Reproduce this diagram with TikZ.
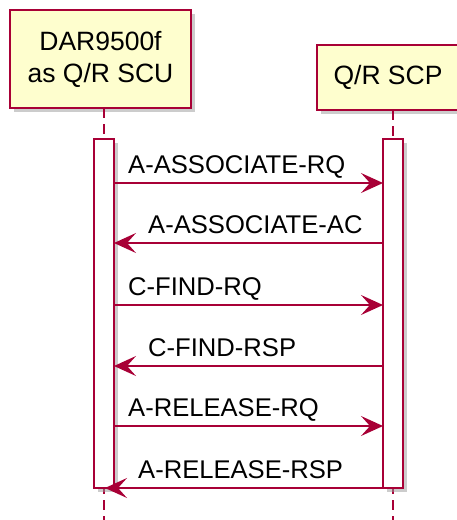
\documentclass[tikz,border=0pt]{standalone}
\usepackage{fontspec}
\setmainfont{Liberation Sans}
\usetikzlibrary{arrows.meta,shadows}
\definecolor{umlred}{HTML}{A80036}
\definecolor{umlfill}{HTML}{FEFECE}
\tikzset{
  umlshadow/.style={drop shadow={shadow xshift=4pt,shadow yshift=-4pt,fill=black!40}},
  participant/.style={draw=umlred,fill=umlfill,line width=2.4pt,align=center,
    font=\fontsize{26.5}{32}\selectfont,umlshadow},
  activation/.style={draw=umlred,fill=white,line width=1.6pt,minimum width=20pt,
    minimum height=349pt,inner sep=0pt,umlshadow},
  lifeline/.style={draw=umlred,line width=1.2pt,dash pattern=on 10pt off 6pt},
  message/.style={draw=umlred,line width=1.5pt,-{Stealth[length=22pt,width=20pt,inset=9pt]}},
  msglabel/.style={anchor=base west,inner sep=0pt,font=\fontsize{25.6}{30}\selectfont}
}
\begin{document}
\begin{tikzpicture}[x=1pt,y=1pt]
  \useasboundingbox (0,0) rectangle (456,-520);

  % participants
  \node[participant,minimum width=181pt,minimum height=98pt] (scu) at (100.5,-59) {DAR9500f\\as Q/R SCU};
  \node[participant,minimum width=142pt,minimum height=65pt] (scp) at (388,-77.5) {Q/R SCP};

  % lifelines
  \coordinate (scuend) at (104,-520);
  \coordinate (scpend) at (393,-520);
  \draw[lifeline] (104,-108) -- (104,-139);
  \draw[lifeline] (393,-110) -- (393,-139);
  \draw[lifeline,dash phase=-12pt] (104,-488) -- (scuend);
  \draw[lifeline,dash phase=-12pt] (393,-488) -- (scpend);

  % activations
  \node[activation] (scuact) at (104,-313.5) {};
  \node[activation] (scpact) at (393,-313.5) {};

  % requests
  \foreach \y/\txt/\lx in {183/A-ASSOCIATE-RQ/128, 305/C-FIND-RQ/128, 426/A-RELEASE-RQ/128} {
    \coordinate (scu\y) at (114,-\y);
    \coordinate (scp\y) at (383,-\y);
    \node[msglabel] (lbl\y) at (\lx,10-\y) {\txt};
    \path[message] (scu\y) -- (scp\y);
  }

  % responses
  \foreach \y/\txt/\lx/\ex in {243/A-ASSOCIATE-AC/148/114, 366/C-FIND-RSP/148/114, 488/A-RELEASE-RSP/138/105} {
    \coordinate (scp\y) at (383,-\y);
    \coordinate (scu\y) at (\ex,-\y);
    \node[msglabel] (lbl\y) at (\lx,10-\y) {\txt};
    \path[message] (scp\y) -- (scu\y);
  }
\end{tikzpicture}
\end{document}
